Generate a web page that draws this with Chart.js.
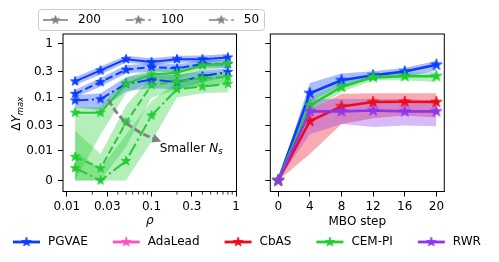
<!DOCTYPE html>
<html>
<head>
<meta charset="utf-8">
<title>Max improvement vs rho and MBO step</title>
<script src="https://cdn.jsdelivr.net/npm/chart.js@4.4.1/dist/chart.umd.min.js"></script>
<style>
  html, body { margin: 0; background: #fff; }
  #wrap { position: relative; width: 499px; height: 262px; overflow: hidden; }
  #wrap canvas { position: absolute; left: 0; top: 0; }
</style>
</head>
<body>
<div id="wrap">
  <canvas id="rho-chart" width="499" height="262"></canvas>
  <canvas id="step-chart" width="499" height="262"></canvas>
</div>
<script>
// x values: left panel (rho) and right panel (MBO step)
const rho = [0.0125, 0.025, 0.05, 0.1, 0.2, 0.4, 0.8];
const rhoTicks = [0.01, 0.03, 0.1, 0.3, 1];
const rhoTickLabels = ['0.01', '0.03', '0.1', '0.3', '1'];
const rhoMinorTicks = [0.02, 0.04, 0.05, 0.06, 0.07, 0.08, 0.09, 0.2, 0.4, 0.5, 0.6, 0.7, 0.8, 0.9];
const steps = [0, 4, 8, 12, 16, 20];
const stepTicks = [0, 4, 8, 12, 16, 20];

// shared y axis (symlog, linear below 0.01)
const yTicks = [0, 0.01, 0.03, 0.1, 0.3, 1];
const yTickLabels = ['0', '0.01', '0.03', '0.1', '0.3', '1'];

// N_s legend
const nsLabels = ['200', '100', '50'];

// left panel, PGVAE per N_s: mean / upper / lower
const pgvae200 = [0.2, 0.32, 0.52, 0.46, 0.52, 0.52, 0.56];
const pgvae200Hi = [0.24, 0.38, 0.6, 0.54, 0.6, 0.61, 0.65];
const pgvae200Lo = [0.17, 0.27, 0.45, 0.4, 0.45, 0.45, 0.49];
const pgvae100 = [0.117, 0.194, 0.33, 0.37, 0.35, 0.42, 0.42];
const pgvae100Hi = [0.14, 0.23, 0.4, 0.44, 0.42, 0.5, 0.5];
const pgvae100Lo = [0.1, 0.16, 0.28, 0.31, 0.29, 0.36, 0.36];
const pgvae50 = [0.088, 0.093, 0.18, 0.216, 0.194, 0.25, 0.3];
const pgvae50Hi = [0.11, 0.12, 0.24, 0.29, 0.26, 0.32, 0.35];
const pgvae50Lo = [0.065, 0.058, 0.13, 0.15, 0.14, 0.19, 0.25];

// left panel, CEM-PI per N_s
const cem200 = [0.052, 0.052, 0.18, 0.27, 0.29, 0.4, 0.43];
const cem200Hi = [0.066, 0.066, 0.24, 0.34, 0.36, 0.46, 0.48];
const cem200Lo = [0, 0.02, 0.12, 0.2, 0.22, 0.32, 0.36];
const cem100 = [0.008, 0.0041, 0.034, 0.17, 0.2, 0.23, 0.24];
const cem100Hi = [0.024, 0.009, 0.07, 0.25, 0.27, 0.3, 0.31];
const cem100Lo = [0, 0, 0.012, 0.1, 0.14, 0.17, 0.18];
const cem50 = [0.0042, 0, 0.0066, 0.046, 0.143, 0.16, 0.18];
const cem50Hi = [0.01, 0.004, 0.02, 0.085, 0.2, 0.22, 0.25];
const cem50Lo = [0, 0, 0, 0.015, 0.1, 0.12, 0.125];

// right panel, per method: mean / upper / lower
const methods = ['PGVAE', 'AdaLead', 'CbAS', 'CEM-PI', 'RWR'];
const pgvaeSteps = [0, 0.12, 0.21, 0.26, 0.305, 0.41];
const pgvaeStepsHi = [0, 0.186, 0.28, 0.31, 0.36, 0.48];
const pgvaeStepsLo = [0, 0.082, 0.168, 0.22, 0.24, 0.32];
const cbasSteps = [0, 0.036, 0.068, 0.082, 0.083, 0.082];
const cbasStepsHi = [0, 0.057, 0.117, 0.12, 0.12, 0.12];
const cbasStepsLo = [0, 0.009, 0.032, 0.041, 0.046, 0.042];
const cemSteps = [0, 0.071, 0.157, 0.24, 0.25, 0.25];
const cemStepsHi = [0, 0.1, 0.194, 0.27, 0.29, 0.3];
const cemStepsLo = [0, 0.053, 0.126, 0.21, 0.21, 0.194];
const rwrSteps = [0, 0.055, 0.055, 0.057, 0.055, 0.055];
const rwrStepsHi = [0, 0.094, 0.094, 0.094, 0.094, 0.088];
const rwrStepsLo = [0, 0.0206, 0.032, 0.028, 0.03, 0.029];

// colours
const blue = '#0a3dff', pink = '#ff4fc8', red = '#ee0a1a', green = '#22cc33', purple = '#8f35ea', gray = '#808080';
const methodColors = [blue, pink, red, green, purple];

const FONT = 'DejaVu Sans';
const SOLID = [], DASHED = [7.8, 3.4], DASHDOT = [13.4, 3.4, 2.1, 3.4];
const nsDashes = [SOLID, DASHED, DASHDOT];

// symlog transform: 0..0.01 linear, log above
const LIN = 0.553;
function sym(v) { return v <= 0.01 ? v / 0.01 * LIN : LIN + Math.log10(v / 0.01); }

function rgba(hex, a) {
  const n = parseInt(hex.slice(1), 16);
  return `rgba(${n >> 16},${(n >> 8) & 255},${n & 255},${a})`;
}

// filled 5-point star like matplotlib '*'
function star(color, size) {
  const c = document.createElement('canvas');
  c.width = c.height = size + 2;
  const g = c.getContext('2d');
  const m = c.width / 2, r = size / 2, ri = r * 0.382;
  g.beginPath();
  for (let i = 0; i < 10; i++) {
    const ang = -Math.PI / 2 + i * Math.PI / 5;
    const rr = i % 2 ? ri : r;
    g.lineTo(m + rr * Math.cos(ang), m + rr * Math.sin(ang));
  }
  g.closePath();
  g.fillStyle = color;
  g.fill();
  g.strokeStyle = color;
  g.lineWidth = 0.8;
  g.stroke();
  return c;
}

function pts(xs, ys) { return xs.map((x, i) => ({ x: x, y: sym(ys[i]) })); }

function band(xs, hi, lo, color) {
  return [
    { data: pts(xs, hi), borderWidth: 0, borderColor: 'transparent', pointRadius: 0, fill: '+1', backgroundColor: rgba(color, 0.34) },
    { data: pts(xs, lo), borderWidth: 0, borderColor: 'transparent', pointRadius: 0, fill: false }
  ];
}

function curve(xs, ys, color, dash, width, marker) {
  return {
    data: pts(xs, ys), borderColor: color, borderWidth: width, borderDash: dash,
    borderJoinStyle: 'round', pointStyle: marker, pointRadius: 4, fill: false, tension: 0
  };
}

function frame(ctx, a) {
  ctx.save();
  ctx.strokeStyle = '#000';
  ctx.lineWidth = 1;
  ctx.strokeRect(a.left, a.top, a.right - a.left, a.bottom - a.top);
  ctx.restore();
}

function handle(ctx, x0, x1, y, color, dash, width, marker) {
  ctx.save();
  ctx.strokeStyle = color;
  ctx.lineWidth = width;
  ctx.setLineDash(dash);
  ctx.beginPath();
  ctx.moveTo(x0, y);
  ctx.lineTo(x1, y);
  ctx.stroke();
  ctx.restore();
  ctx.drawImage(marker, (x0 + x1) / 2 - marker.width / 2, y - marker.height / 2);
}

const axisFont = { family: FONT, size: 12 };
const tickGrid = { display: true, drawOnChartArea: false, tickLength: 5, tickColor: '#000', tickWidth: 1 };

function yScale(showLabels, width) {
  return {
    type: 'linear', min: -0.206, max: 2.74,
    afterBuildTicks: s => { s.ticks = yTicks.map(v => ({ value: sym(v) })); },
    afterFit: s => { s.width = width; },
    ticks: { callback: (v, i) => showLabels ? yTickLabels[i] : '', font: axisFont, color: '#000', padding: 5, autoSkip: false },
    grid: tickGrid,
    border: { display: false }
  };
}

// ---------- left panel ----------
const sBlue = star(blue, 10), sGreen = star(green, 10);
const leftDatasets = [
  ...band(rho, pgvae200Hi, pgvae200Lo, blue),
  ...band(rho, pgvae100Hi, pgvae100Lo, blue),
  ...band(rho, pgvae50Hi, pgvae50Lo, blue),
  ...band(rho, cem200Hi, cem200Lo, green),
  ...band(rho, cem100Hi, cem100Lo, green),
  ...band(rho, cem50Hi, cem50Lo, green),
  curve(rho, pgvae200, blue, SOLID, 2, sBlue),
  curve(rho, pgvae100, blue, DASHED, 2, sBlue),
  curve(rho, pgvae50, blue, DASHDOT, 2, sBlue),
  curve(rho, cem200, green, SOLID, 2, sGreen),
  curve(rho, cem100, green, DASHED, 2, sGreen),
  curve(rho, cem50, green, DASHDOT, 2, sGreen)
];
leftDatasets.forEach((d, i) => { d.order = -i; });

// annotation anchors in data units (rho, dY)
const arrowFrom = [0.031, 0.092], arrowBend = [0.045, 0.028], arrowTo = [0.118, 0.016];
const noteAt = [0.125, 0.011];

const leftDecor = {
  id: 'leftDecor',
  afterDatasetsDraw(chart) {
    const { ctx, chartArea: a, scales } = chart;
    frame(ctx, a);
    // minor ticks on the log axis
    ctx.save();
    ctx.strokeStyle = '#000';
    ctx.lineWidth = 0.8;
    rhoMinorTicks.forEach(v => {
      const x = scales.x.getPixelForValue(v);
      ctx.beginPath();
      ctx.moveTo(x, a.bottom);
      ctx.lineTo(x, a.bottom + 3);
      ctx.stroke();
    });
    ctx.restore();
    // curved arrow
    const px = p => ({ x: scales.x.getPixelForValue(p[0]), y: scales.y.getPixelForValue(sym(p[1])) });
    const p0 = px(arrowFrom), c = px(arrowBend), p1 = px(arrowTo);
    const ang = Math.atan2(p1.y - c.y, p1.x - c.x);
    ctx.save();
    ctx.strokeStyle = gray;
    ctx.lineWidth = 2.8;
    ctx.setLineDash([7, 3]);
    ctx.beginPath();
    ctx.moveTo(p0.x, p0.y);
    ctx.quadraticCurveTo(c.x, c.y, p1.x - 4 * Math.cos(ang), p1.y - 4 * Math.sin(ang));
    ctx.stroke();
    ctx.setLineDash([]);
    ctx.fillStyle = gray;
    ctx.translate(p1.x, p1.y);
    ctx.rotate(ang);
    ctx.beginPath();
    ctx.moveTo(4, 0);
    ctx.lineTo(-5, -4.5);
    ctx.lineTo(-5, 4.5);
    ctx.closePath();
    ctx.fill();
    ctx.restore();
    // "Smaller N_s"
    const t = px(noteAt);
    ctx.save();
    ctx.fillStyle = '#000';
    ctx.textBaseline = 'middle';
    ctx.font = `12px ${FONT}`;
    ctx.fillText('Smaller ', t.x, t.y);
    let x = t.x + ctx.measureText('Smaller ').width;
    ctx.font = `italic 12px ${FONT}`;
    ctx.fillText('N', x, t.y);
    x += ctx.measureText('N').width;
    ctx.font = `italic 8.5px ${FONT}`;
    ctx.fillText('s', x, t.y + 3);
    ctx.restore();
  },
  afterDraw(chart) {
    const { ctx, chartArea: a } = chart;
    ctx.save();
    ctx.fillStyle = '#000';
    // x title
    ctx.textAlign = 'center';
    ctx.textBaseline = 'middle';
    ctx.font = `italic 12px ${FONT}`;
    ctx.fillText('ρ', (a.left + a.right) / 2, 221);
    // y title  ΔY_max
    ctx.translate(19.5, (a.top + a.bottom) / 2 + 1);
    ctx.rotate(-Math.PI / 2);
    ctx.textAlign = 'left';
    ctx.textBaseline = 'alphabetic';
    ctx.font = `12px ${FONT}`;
    const wD = ctx.measureText('Δ').width;
    ctx.font = `italic 12px ${FONT}`;
    const wY = ctx.measureText('Y').width;
    ctx.font = `italic 8.5px ${FONT}`;
    const wM = ctx.measureText('max').width;
    let x = -(wD + wY + wM) / 2;
    ctx.font = `12px ${FONT}`;
    ctx.fillText('Δ', x, 0);
    ctx.font = `italic 12px ${FONT}`;
    ctx.fillText('Y', x + wD, 0);
    ctx.font = `italic 8.5px ${FONT}`;
    ctx.fillText('max', x + wD + wY, 3);
    ctx.restore();

    // N_s legend (top, framed)
    ctx.save();
    ctx.font = `12px ${FONT}`;
    ctx.fillStyle = 'rgba(255,255,255,0.8)';
    ctx.strokeStyle = '#cccccc';
    ctx.lineWidth = 1;
    ctx.beginPath();
    ctx.roundRect(38.5, 9.5, 226, 21, 3);
    ctx.fill();
    ctx.stroke();
    const gStar = star(gray, 9);
    let lx = 43;
    nsLabels.forEach((lab, i) => {
      handle(ctx, lx, lx + 25, 20, gray, nsDashes[i], 1.6, gStar);
      ctx.fillStyle = '#000';
      ctx.textBaseline = 'middle';
      ctx.fillText(lab, lx + 35, 20);
      lx += 35 + ctx.measureText(lab).width + 25;
    });
    ctx.restore();

    // method legend (bottom)
    ctx.save();
    ctx.font = `12px ${FONT}`;
    let bx = 13;
    methods.forEach((name, i) => {
      handle(ctx, bx, bx + 27, 242, methodColors[i], SOLID, 2.8, star(methodColors[i], 10));
      ctx.fillStyle = '#000';
      ctx.textBaseline = 'middle';
      ctx.fillText(name, bx + 35, 242);
      bx += 35 + ctx.measureText(name).width + 25;
    });
    ctx.restore();
  }
};

new Chart(document.getElementById('rho-chart'), {
  type: 'line',
  data: { datasets: leftDatasets },
  options: {
    responsive: false, animation: false, devicePixelRatio: 1, events: [],
    layout: { padding: { left: 20, right: 262.5, top: 34, bottom: 30.5 } },
    plugins: { legend: { display: false }, tooltip: { enabled: false } },
    scales: {
      x: {
        type: 'logarithmic', min: 0.009, max: 1.01,
        afterBuildTicks: s => { s.ticks = rhoTicks.map(v => ({ value: v })); },
        afterFit: s => { s.height = 40; },
        ticks: { callback: (v, i) => rhoTickLabels[i], font: axisFont, color: '#000', padding: 3, maxRotation: 0, autoSkip: false },
        grid: tickGrid,
        border: { display: false }
      },
      y: yScale(true, 43)
    }
  },
  plugins: [leftDecor]
});

// ---------- right panel ----------
const rightDatasets = [
  ...band(steps, pgvaeStepsHi, pgvaeStepsLo, blue),
  ...band(steps, cbasStepsHi, cbasStepsLo, red),
  ...band(steps, cemStepsHi, cemStepsLo, green),
  ...band(steps, rwrStepsHi, rwrStepsLo, purple),
  curve(steps, pgvaeSteps, blue, SOLID, 2.6, star(blue, 12)),
  curve(steps, cbasSteps, red, SOLID, 2.6, star(red, 12)),
  curve(steps, cemSteps, green, SOLID, 2.6, star(green, 12)),
  curve(steps, rwrSteps, purple, SOLID, 2.6, star(purple, 12))
];
rightDatasets.forEach((d, i) => { d.order = -i; });

const rightDecor = {
  id: 'rightDecor',
  afterDatasetsDraw(chart) { frame(chart.ctx, chart.chartArea); },
  afterDraw(chart) {
    const { ctx, chartArea: a } = chart;
    ctx.save();
    ctx.fillStyle = '#000';
    ctx.textAlign = 'center';
    ctx.textBaseline = 'middle';
    ctx.font = `12px ${FONT}`;
    ctx.fillText('MBO step', (a.left + a.right) / 2, 222);
    ctx.restore();
  }
};

new Chart(document.getElementById('step-chart'), {
  type: 'line',
  data: { datasets: rightDatasets },
  options: {
    responsive: false, animation: false, devicePixelRatio: 1, events: [],
    layout: { padding: { left: 262.3, right: 54.7, top: 34, bottom: 30.5 } },
    plugins: { legend: { display: false }, tooltip: { enabled: false } },
    scales: {
      x: {
        type: 'linear', min: -1, max: 21,
        afterBuildTicks: s => { s.ticks = stepTicks.map(v => ({ value: v })); },
        afterFit: s => { s.height = 40; },
        ticks: { font: axisFont, color: '#000', padding: 3, maxRotation: 0, autoSkip: false },
        grid: tickGrid,
        border: { display: false }
      },
      y: yScale(false, 8)
    }
  },
  plugins: [rightDecor]
});
</script>
</body>
</html>
